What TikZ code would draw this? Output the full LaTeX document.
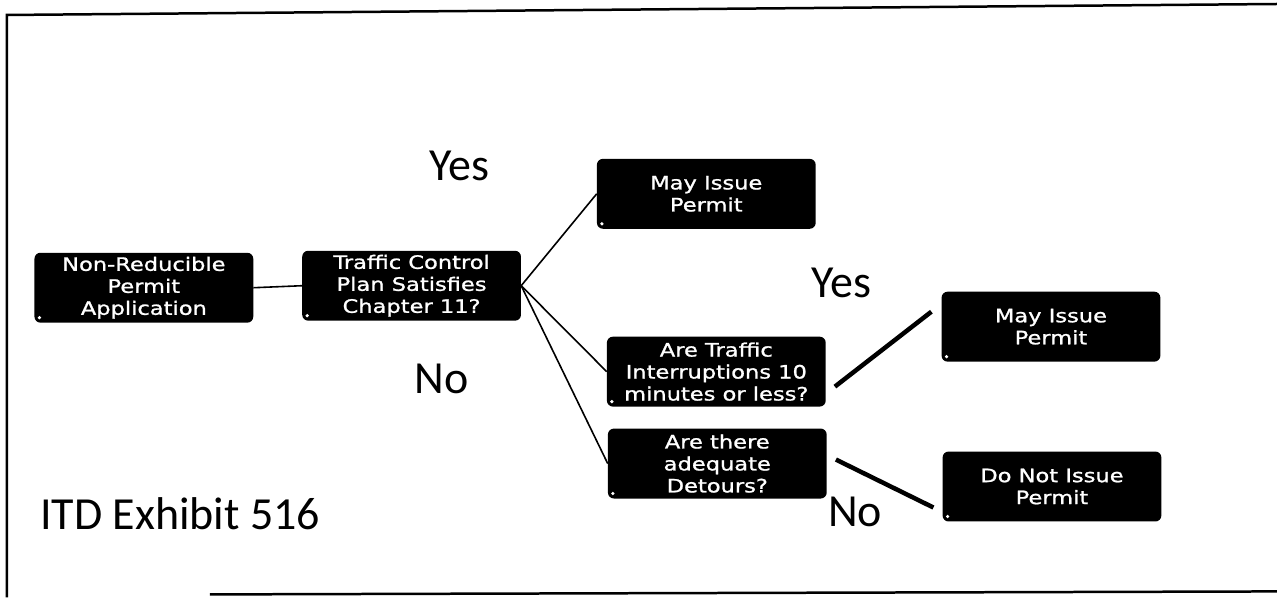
\documentclass[tikz,border=0pt]{standalone}
\usepackage{fontspec}
\setmainfont{Carlito}
\newfontfamily\boxfont[FakeStretch=1.22,FakeBold=1.2]{DejaVu Sans}

\begin{document}
\begin{tikzpicture}[x=1pt, y=-1pt,
    decision/.style={fill=black, rounded corners=6pt, text=white, align=center,
      minimum width=219pt, minimum height=70pt, inner sep=2pt,
      font=\boxfont\fontsize{18.5}{22}\selectfont,
      path picture={\fill[white] ([xshift=5pt,yshift=5pt]path picture bounding box.south west) circle (1.8pt);}},
    thin link/.style={line width=1.6pt},
    thick link/.style={line width=4.5pt},
    answer/.style={font=\fontsize{46}{50}\selectfont, anchor=base, inner sep=0pt}]
  \fill[white] (0,0) rectangle (1278,598);
  % frame
  \draw[line width=2.5pt] (7,598) -- (7,15) -- (1278,4);
  \draw[line width=2.5pt] (210,595) -- (1278,592);

  \node[decision] (apply) at (144,288) {Non-Reducible\\Permit\\Application};
  \node[decision] (plan) at (412,286) {Traffic Control\\Plan Satisfies\\Chapter 11?};
  \node[decision] (issuea) at (707,194) {May Issue\\Permit};
  \node[decision] (interrupt) at (717,372) {Are Traffic\\Interruptions 10\\minutes or less?};
  \node[decision] (detour) at (718,464) {Are there\\adequate\\Detours?};
  \node[decision] (issueb) at (1052,327) {May Issue\\Permit};
  \node[decision] (refuse) at (1053,487) {Do Not Issue\\Permit};

  \draw[thin link] (apply.east) -- (plan.west);
  \draw[thin link] (plan.east) -- (issuea.west);
  \draw[thin link] (plan.east) -- (interrupt.west);
  \draw[thin link] (plan.east) -- (detour.west);
  \draw[thick link] ([xshift=9pt,yshift=-15pt]interrupt.east) -- ([xshift=-10pt,yshift=15pt]issueb.west);
  \draw[thick link] ([xshift=9pt,yshift=4pt]detour.east) -- ([xshift=-9pt,yshift=-21pt]refuse.west);

  \node[answer] (yesa) at (460,181) {Yes};
  \node[answer] (yesb) at (842,298) {Yes};
  \node[answer] (noa) at (442,394) {No};
  \node[answer] (nob) at (856,527) {No};
  \node[answer, anchor=base west] (title) at (40,530) {ITD Exhibit 516};
\end{tikzpicture}
\end{document}
